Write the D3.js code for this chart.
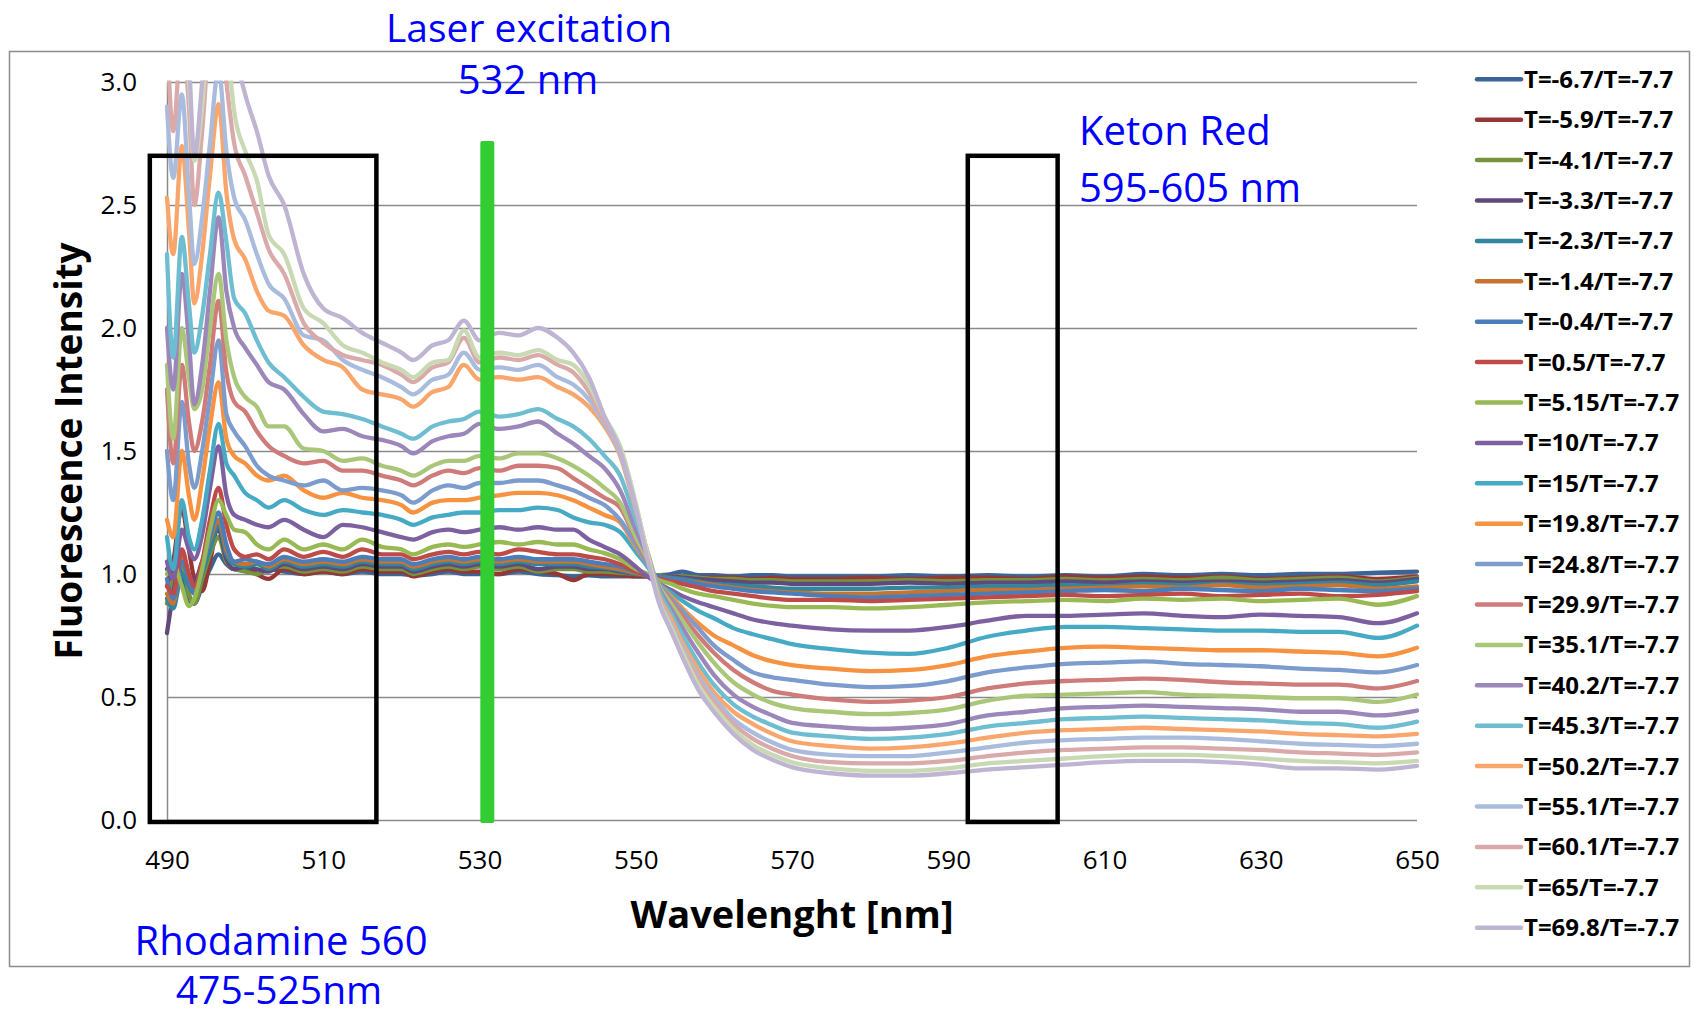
<!DOCTYPE html>
<html>
<head>
<meta charset="utf-8">
<script src="https://cdn.jsdelivr.net/npm/d3@7"></script>
<style>
  body { margin: 0; background: #fff; }
  text { font-family: "Open Sans", sans-serif; }
</style>
</head>
<body>
<div id="chart"></div>
<script>
// wavelength grid (nm), denser where the spectra change fast
const wavelengths = [490, 490.8, 491.9, 492.8, 493.5, 494.5, 495.5, 496.6, 497.6, 498.6, 500, 501.5, 503,
  505, 507.5, 510, 512.5, 515, 517.5, 520, 521.5, 524, 526, 528, 530, 532.5, 535, 537.5, 540,
  542, 544, 546, 548, 550, 551.5, 553, 554.5, 556, 558, 560, 562.5, 565, 567.5, 570,
  575, 580, 585, 590, 595, 600, 605, 610, 615, 620, 625, 630, 635, 640, 645, 650];

// ratio spectra, one array per temperature
const tM67 = [1.02, 1.05, 1.00, 0.88, 0.88, 0.95, 1.02, 1.08, 1.04, 1.02, 1.02, 1.00, 1.02,
  1.01, 1.00, 1.01, 1.00, 1.01, 1.00, 1.00, 0.995, 1.00, 1.01, 1.00, 1.00, 1.00, 1.01, 1.00, 0.995,
  0.99, 0.995, 0.99, 0.99, 0.99, 0.99, 0.995, 1.00, 1.01, 0.995, 0.995, 0.99, 0.995, 0.995, 0.99,
  0.99, 0.99, 0.995, 0.99, 0.995, 0.99, 0.995, 0.99, 1.00, 0.995, 1.00, 0.995, 1.00, 1.00, 1.005, 1.01];
const tM59 = [0.95, 1.05, 1.27, 1.10, 0.98, 0.93, 1.05, 1.20, 1.05, 1.02, 1.04, 1.00, 0.98,
  1.02, 1.00, 1.01, 1.00, 1.02, 1.01, 1.01, 0.99, 1.01, 1.02, 1.01, 1.01, 1.00, 1.02, 1.01, 1.00,
  0.975, 1.00, 1.00, 0.995, 0.99, 0.99, 0.99, 0.99, 0.99, 0.985, 0.985, 0.985, 0.98, 0.985, 0.98,
  0.98, 0.985, 0.98, 0.985, 0.985, 0.98, 0.99, 0.985, 0.99, 0.985, 0.99, 0.98, 0.985, 0.99, 0.98, 0.99];
const tM41 = [0.88, 0.98, 1.05, 0.92, 0.88, 0.98, 1.08, 1.15, 1.05, 1.02, 1.01, 1.00, 1.02,
  1.03, 1.01, 1.02, 1.01, 1.03, 1.02, 1.02, 1.00, 1.02, 1.03, 1.02, 1.03, 1.02, 1.03, 1.01, 1.02,
  1.02, 1.01, 1.01, 1.005, 1.00, 0.995, 0.995, 0.99, 0.99, 0.985, 0.98, 0.98, 0.975, 0.975, 0.97,
  0.97, 0.97, 0.975, 0.97, 0.975, 0.975, 0.98, 0.975, 0.98, 0.975, 0.985, 0.975, 0.98, 0.985, 0.97, 0.985];
const tM33 = [0.76, 0.92, 1.05, 1.00, 0.97, 1.05, 1.12, 1.18, 1.06, 1.02, 1.03, 1.02, 1.01,
  1.04, 1.02, 1.03, 1.02, 1.04, 1.03, 1.03, 1.01, 1.03, 1.04, 1.03, 1.04, 1.03, 1.04, 1.02, 1.03,
  1.03, 1.02, 1.02, 1.01, 1.00, 0.995, 0.99, 0.99, 0.985, 0.98, 0.975, 0.97, 0.965, 0.965, 0.96,
  0.96, 0.96, 0.965, 0.96, 0.965, 0.965, 0.97, 0.965, 0.97, 0.965, 0.97, 0.965, 0.97, 0.975, 0.965, 0.98];
const tM23 = [0.90, 0.86, 1.00, 0.95, 0.92, 1.00, 1.10, 1.20, 1.08, 1.04, 1.03, 1.04, 1.02,
  1.05, 1.03, 1.04, 1.03, 1.05, 1.04, 1.04, 1.02, 1.04, 1.05, 1.04, 1.05, 1.04, 1.05, 1.04, 1.04,
  1.04, 1.03, 1.025, 1.015, 1.00, 0.995, 0.99, 0.985, 0.98, 0.97, 0.96, 0.955, 0.95, 0.945, 0.94,
  0.94, 0.94, 0.945, 0.945, 0.95, 0.95, 0.955, 0.95, 0.96, 0.955, 0.96, 0.955, 0.96, 0.965, 0.955, 0.97];
const tM14 = [0.92, 0.88, 1.08, 1.00, 0.94, 1.03, 1.14, 1.22, 1.10, 1.05, 1.04, 1.05, 1.03,
  1.06, 1.04, 1.05, 1.04, 1.06, 1.05, 1.05, 1.03, 1.05, 1.06, 1.05, 1.06, 1.05, 1.06, 1.05, 1.05,
  1.05, 1.04, 1.03, 1.02, 1.005, 0.995, 0.99, 0.98, 0.975, 0.965, 0.955, 0.945, 0.935, 0.93, 0.925,
  0.92, 0.92, 0.925, 0.93, 0.935, 0.935, 0.94, 0.945, 0.95, 0.945, 0.955, 0.945, 0.95, 0.955, 0.94, 0.95];
const tM04 = [0.98, 0.90, 1.05, 0.98, 0.92, 1.02, 1.15, 1.25, 1.12, 1.05, 1.06, 1.05, 1.04,
  1.07, 1.05, 1.06, 1.05, 1.07, 1.06, 1.06, 1.04, 1.06, 1.07, 1.06, 1.07, 1.06, 1.07, 1.06, 1.06,
  1.06, 1.05, 1.04, 1.03, 1.01, 1.00, 0.99, 0.98, 0.975, 0.96, 0.95, 0.94, 0.93, 0.925, 0.92,
  0.91, 0.905, 0.91, 0.915, 0.92, 0.925, 0.93, 0.935, 0.93, 0.94, 0.935, 0.93, 0.94, 0.935, 0.93, 0.94];
const tP05 = [0.95, 0.92, 1.10, 1.00, 0.95, 1.05, 1.22, 1.35, 1.20, 1.10, 1.07, 1.08, 1.06,
  1.10, 1.07, 1.09, 1.07, 1.10, 1.08, 1.08, 1.06, 1.08, 1.09, 1.08, 1.09, 1.08, 1.10, 1.09, 1.08,
  1.08, 1.07, 1.06, 1.04, 1.01, 0.995, 0.98, 0.97, 0.96, 0.945, 0.93, 0.92, 0.91, 0.90, 0.895,
  0.895, 0.89, 0.895, 0.90, 0.905, 0.91, 0.915, 0.91, 0.915, 0.92, 0.91, 0.915, 0.92, 0.91, 0.915, 0.93];
const tP515 = [1.00, 1.04, 0.95, 0.87, 0.90, 1.02, 1.18, 1.30, 1.24, 1.18, 1.17, 1.12, 1.10,
  1.14, 1.10, 1.12, 1.10, 1.14, 1.11, 1.10, 1.08, 1.11, 1.12, 1.11, 1.12, 1.13, 1.12, 1.13, 1.12,
  1.12, 1.10, 1.085, 1.06, 1.02, 1.00, 0.975, 0.96, 0.94, 0.92, 0.91, 0.895, 0.88, 0.87, 0.865,
  0.865, 0.86, 0.865, 0.875, 0.885, 0.89, 0.895, 0.89, 0.90, 0.895, 0.90, 0.89, 0.895, 0.90, 0.875, 0.91];
const tP10 = [1.05, 0.98, 1.18, 1.10, 1.06, 1.16, 1.35, 1.52, 1.32, 1.24, 1.22, 1.20, 1.19,
  1.22, 1.18, 1.15, 1.20, 1.19, 1.17, 1.15, 1.14, 1.17, 1.18, 1.17, 1.18, 1.19, 1.18, 1.19, 1.18,
  1.18, 1.14, 1.11, 1.08, 1.03, 0.99, 0.96, 0.935, 0.91, 0.885, 0.865, 0.84, 0.815, 0.80, 0.79,
  0.775, 0.77, 0.77, 0.785, 0.81, 0.83, 0.83, 0.835, 0.84, 0.83, 0.825, 0.835, 0.83, 0.825, 0.80, 0.84];
const tP15 = [1.15, 1.02, 1.30, 1.15, 1.10, 1.22, 1.42, 1.61, 1.45, 1.40, 1.33, 1.30, 1.27,
  1.30, 1.26, 1.24, 1.26, 1.25, 1.24, 1.22, 1.20, 1.23, 1.24, 1.25, 1.25, 1.26, 1.26, 1.27, 1.26,
  1.23, 1.21, 1.20, 1.17, 1.09, 1.03, 0.96, 0.925, 0.89, 0.85, 0.82, 0.78, 0.755, 0.735, 0.715,
  0.695, 0.68, 0.675, 0.70, 0.745, 0.77, 0.785, 0.785, 0.78, 0.775, 0.77, 0.77, 0.765, 0.765, 0.74, 0.79];
const tP198 = [1.22, 1.15, 1.50, 1.32, 1.22, 1.38, 1.60, 1.78, 1.55, 1.48, 1.45, 1.40, 1.38,
  1.40, 1.34, 1.31, 1.33, 1.31, 1.30, 1.28, 1.25, 1.29, 1.30, 1.30, 1.31, 1.32, 1.33, 1.33, 1.32,
  1.30, 1.27, 1.24, 1.21, 1.11, 1.04, 0.96, 0.91, 0.86, 0.80, 0.75, 0.71, 0.67, 0.645, 0.63,
  0.615, 0.605, 0.61, 0.63, 0.665, 0.685, 0.70, 0.705, 0.70, 0.695, 0.69, 0.69, 0.685, 0.68, 0.665, 0.70];
const tP248 = [1.50, 1.30, 1.70, 1.45, 1.35, 1.50, 1.72, 1.95, 1.65, 1.58, 1.52, 1.44, 1.40,
  1.38, 1.36, 1.38, 1.34, 1.35, 1.34, 1.32, 1.29, 1.34, 1.36, 1.35, 1.37, 1.37, 1.38, 1.38, 1.36,
  1.34, 1.31, 1.28, 1.22, 1.12, 1.04, 0.96, 0.90, 0.85, 0.78, 0.71, 0.65, 0.60, 0.58, 0.57,
  0.55, 0.54, 0.545, 0.565, 0.60, 0.62, 0.635, 0.64, 0.645, 0.635, 0.63, 0.625, 0.615, 0.61, 0.60, 0.63];
const tP299 = [1.75, 1.45, 1.85, 1.62, 1.50, 1.62, 1.85, 2.11, 1.82, 1.70, 1.66, 1.58, 1.52,
  1.48, 1.45, 1.46, 1.42, 1.42, 1.40, 1.38, 1.36, 1.40, 1.42, 1.41, 1.43, 1.42, 1.44, 1.44, 1.43,
  1.39, 1.35, 1.31, 1.27, 1.14, 1.05, 0.95, 0.89, 0.83, 0.75, 0.68, 0.61, 0.56, 0.525, 0.51,
  0.49, 0.48, 0.485, 0.50, 0.535, 0.555, 0.565, 0.57, 0.575, 0.57, 0.56, 0.555, 0.55, 0.55, 0.535, 0.565];
const tP351 = [1.85, 1.55, 2.00, 1.80, 1.67, 1.75, 2.00, 2.22, 1.95, 1.80, 1.72, 1.68, 1.60,
  1.60, 1.51, 1.50, 1.46, 1.47, 1.44, 1.42, 1.40, 1.44, 1.46, 1.46, 1.48, 1.47, 1.49, 1.49, 1.47,
  1.44, 1.40, 1.35, 1.29, 1.15, 1.06, 0.95, 0.88, 0.81, 0.72, 0.64, 0.56, 0.51, 0.475, 0.455,
  0.44, 0.43, 0.435, 0.45, 0.485, 0.505, 0.51, 0.515, 0.52, 0.51, 0.505, 0.50, 0.495, 0.495, 0.48, 0.51];
const tP402 = [2.00, 1.75, 2.22, 1.95, 1.69, 1.85, 2.15, 2.45, 2.15, 2.00, 1.92, 1.85, 1.78,
  1.75, 1.65, 1.58, 1.59, 1.56, 1.545, 1.52, 1.49, 1.54, 1.56, 1.57, 1.61, 1.59, 1.60, 1.62, 1.57,
  1.53, 1.48, 1.43, 1.34, 1.18, 1.07, 0.94, 0.86, 0.78, 0.68, 0.59, 0.51, 0.46, 0.425, 0.395,
  0.38, 0.37, 0.375, 0.39, 0.425, 0.44, 0.455, 0.46, 0.465, 0.46, 0.455, 0.45, 0.44, 0.44, 0.425, 0.445];
const tP453 = [2.30, 1.88, 2.37, 2.10, 1.90, 2.05, 2.30, 2.55, 2.35, 2.12, 2.06, 1.95, 1.86,
  1.80, 1.72, 1.66, 1.65, 1.63, 1.60, 1.57, 1.55, 1.60, 1.62, 1.63, 1.66, 1.64, 1.65, 1.67, 1.63,
  1.60, 1.55, 1.48, 1.40, 1.22, 1.09, 0.93, 0.84, 0.75, 0.64, 0.55, 0.47, 0.42, 0.385, 0.355,
  0.34, 0.33, 0.335, 0.35, 0.38, 0.395, 0.41, 0.415, 0.42, 0.415, 0.41, 0.405, 0.395, 0.39, 0.375, 0.40];
const tP502 = [2.53, 2.30, 2.74, 2.40, 2.10, 2.30, 2.62, 2.91, 2.55, 2.36, 2.28, 2.15, 2.07,
  2.05, 1.93, 1.87, 1.84, 1.75, 1.73, 1.71, 1.68, 1.74, 1.76, 1.85, 1.79, 1.80, 1.79, 1.80, 1.76,
  1.73, 1.68, 1.60, 1.48, 1.26, 1.09, 0.91, 0.82, 0.72, 0.61, 0.52, 0.44, 0.39, 0.35, 0.32,
  0.30, 0.29, 0.295, 0.31, 0.335, 0.355, 0.365, 0.37, 0.375, 0.37, 0.365, 0.36, 0.35, 0.345, 0.34, 0.35];
const tP551 = [2.90, 2.61, 2.95, 2.55, 2.26, 2.45, 2.75, 3.05, 2.72, 2.53, 2.44, 2.30, 2.18,
  2.12, 1.97, 1.95, 1.87, 1.83, 1.80, 1.76, 1.73, 1.79, 1.81, 1.90, 1.83, 1.84, 1.83, 1.85, 1.80,
  1.77, 1.71, 1.61, 1.49, 1.27, 1.08, 0.90, 0.80, 0.70, 0.585, 0.50, 0.41, 0.355, 0.315, 0.285,
  0.265, 0.26, 0.26, 0.275, 0.295, 0.315, 0.325, 0.33, 0.335, 0.335, 0.33, 0.32, 0.31, 0.305, 0.30, 0.31];
const tP601 = [3.20, 2.80, 3.20, 2.90, 2.50, 2.80, 3.20, 3.30, 3.00, 2.75, 2.62, 2.47, 2.32,
  2.22, 2.02, 1.94, 1.89, 1.87, 1.85, 1.81, 1.78, 1.84, 1.86, 1.96, 1.86, 1.88, 1.87, 1.89, 1.85,
  1.82, 1.74, 1.62, 1.50, 1.28, 1.08, 0.895, 0.79, 0.69, 0.57, 0.48, 0.39, 0.33, 0.29, 0.26,
  0.235, 0.23, 0.23, 0.24, 0.26, 0.275, 0.285, 0.29, 0.295, 0.295, 0.29, 0.285, 0.275, 0.27, 0.265, 0.275];
const tP65 = [3.30, 3.10, 3.40, 3.00, 2.68, 2.90, 3.30, 3.50, 3.20, 2.88, 2.72, 2.60, 2.38,
  2.30, 2.08, 2.02, 1.93, 1.90, 1.86, 1.83, 1.80, 1.86, 1.87, 1.99, 1.88, 1.90, 1.89, 1.91, 1.87,
  1.85, 1.77, 1.64, 1.52, 1.29, 1.08, 0.89, 0.785, 0.68, 0.55, 0.46, 0.37, 0.305, 0.265, 0.235,
  0.21, 0.20, 0.20, 0.21, 0.23, 0.24, 0.25, 0.26, 0.265, 0.265, 0.26, 0.25, 0.24, 0.235, 0.23, 0.24];
const tP698 = [3.40, 3.20, 3.50, 3.10, 2.70, 3.00, 3.40, 3.60, 3.40, 3.15, 2.95, 2.80, 2.62,
  2.50, 2.22, 2.08, 2.04, 1.98, 1.94, 1.90, 1.87, 1.93, 1.95, 2.03, 1.95, 1.98, 1.97, 2.00, 1.96,
  1.90, 1.80, 1.64, 1.50, 1.27, 1.06, 0.88, 0.77, 0.66, 0.53, 0.44, 0.35, 0.285, 0.245, 0.215,
  0.19, 0.18, 0.18, 0.19, 0.205, 0.215, 0.225, 0.235, 0.24, 0.24, 0.235, 0.225, 0.21, 0.21, 0.205, 0.22];

const seriesNames = ["T=-6.7/T=-7.7", "T=-5.9/T=-7.7", "T=-4.1/T=-7.7", "T=-3.3/T=-7.7", "T=-2.3/T=-7.7",
  "T=-1.4/T=-7.7", "T=-0.4/T=-7.7", "T=0.5/T=-7.7", "T=5.15/T=-7.7", "T=10/T=-7.7", "T=15/T=-7.7",
  "T=19.8/T=-7.7", "T=24.8/T=-7.7", "T=29.9/T=-7.7", "T=35.1/T=-7.7", "T=40.2/T=-7.7", "T=45.3/T=-7.7",
  "T=50.2/T=-7.7", "T=55.1/T=-7.7", "T=60.1/T=-7.7", "T=65/T=-7.7", "T=69.8/T=-7.7"];
const seriesColors = ["#3c6497", "#953735", "#77933c", "#604a7b", "#31859c", "#c77430",
  "#4a7ebb", "#be4b48", "#98b954", "#7d60a0", "#46aac5", "#f69240",
  "#7c9ccd", "#cf7b79", "#aac779", "#9b87b9", "#6fbdd1", "#f9a66d",
  "#a9bcdd", "#d9aaa9", "#c8d9b3", "#bfb4d1"];

const xTicks = [490, 510, 530, 550, 570, 590, 610, 630, 650];
const yTicks = [0, 0.5, 1, 1.5, 2, 2.5, 3];

// annotation boxes and laser line (nm / intensity units)
const rhodamineBox = [487.8, 516.8];
const ketonBox = [592.5, 604];
const boxTop = 2.7;
const laserNm = 531;
const laserTop = 2.76;

document.addEventListener('DOMContentLoaded', () => {
    const seriesValues = [tM67, tM59, tM41, tM33, tM23, tM14, tM04, tP05, tP515, tP10, tP15,
        tP198, tP248, tP299, tP351, tP402, tP453, tP502, tP551, tP601, tP65, tP698];

    const svg = d3.select('#chart').append('svg')
        .attr('width', 1695)
        .attr('height', 1016);

    const xScale = d3.scaleLinear().domain([490, 650]).range([167, 1417]);
    const yScale = d3.scaleLinear().domain([0, 3]).range([820, 82]);

    // outer frame
    svg.append('rect')
        .attr('x', 9.5).attr('y', 51.5)
        .attr('width', 1680).attr('height', 915)
        .attr('fill', 'none')
        .attr('stroke', '#8c8c8c')
        .attr('stroke-width', 1.5);

    // y axis with gridlines
    const yAxis = d3.axisLeft(yScale)
        .tickValues(yTicks)
        .tickSize(-(xScale(650) - xScale(490)))
        .tickSizeOuter(0)
        .tickPadding(30)
        .tickFormat(d3.format('.1f'));

    const gy = svg.append('g')
        .attr('transform', 'translate(' + xScale(490) + ',0)')
        .call(yAxis);
    gy.select('.domain').attr('stroke', '#8a8a8a').attr('stroke-width', 1.5);
    gy.selectAll('.tick line').attr('stroke', '#8a8a8a').attr('stroke-width', 1.5);
    gy.selectAll('.tick text')
        .attr('fill', '#000')
        .style('font-family', '"Open Sans", sans-serif')
        .style('font-size', '26px');

    // x axis labels only
    const xAxis = d3.axisBottom(xScale)
        .tickValues(xTicks)
        .tickSize(0)
        .tickPadding(31);
    const gx = svg.append('g')
        .attr('transform', 'translate(0,' + yScale(0) + ')')
        .call(xAxis);
    gx.select('.domain').remove();
    gx.selectAll('.tick text')
        .attr('fill', '#000')
        .style('font-family', '"Open Sans", sans-serif')
        .style('font-size', '26px');

    // clip lines to the plot area like the spreadsheet does
    svg.append('clipPath').attr('id', 'plotClip')
        .append('rect')
        .attr('x', xScale(490) - 3).attr('y', yScale(3) - 1.5)
        .attr('width', xScale(650) - xScale(490) + 6)
        .attr('height', yScale(0) - yScale(3) + 4);

    const line = d3.line()
        .x(function (d, i) { return xScale(wavelengths[i]); })
        .y(function (d) { return yScale(d); })
        .curve(d3.curveMonotoneX);

    svg.append('g')
        .attr('clip-path', 'url(#plotClip)')
        .selectAll('path')
        .data(seriesValues)
        .enter().append('path')
        .attr('d', function (d) { return line(d); })
        .attr('fill', 'none')
        .attr('stroke', function (d, i) { return seriesColors[i]; })
        .attr('stroke-width', 4.3)
        .attr('stroke-linejoin', 'round')
        .attr('stroke-linecap', 'round');

    // laser excitation line
    svg.append('rect')
        .attr('x', xScale(laserNm) - 7)
        .attr('y', yScale(laserTop))
        .attr('width', 14)
        .attr('height', yScale(-0.012) - yScale(laserTop))
        .attr('rx', 2)
        .attr('fill', '#33cc33');

    // detection bands
    [rhodamineBox, ketonBox].forEach(function (b) {
        svg.append('rect')
            .attr('x', xScale(b[0]))
            .attr('y', yScale(boxTop))
            .attr('width', xScale(b[1]) - xScale(b[0]))
            .attr('height', yScale(-0.008) - yScale(boxTop))
            .attr('fill', 'none')
            .attr('stroke', '#000')
            .attr('stroke-width', 4.5);
    });

    // axis titles
    svg.append('text')
        .attr('transform', 'translate(82,451) rotate(-90)')
        .attr('text-anchor', 'middle')
        .style('font-weight', 'bold')
        .style('font-size', '37px')
        .text('Fluorescence Intensity');

    svg.append('text')
        .attr('x', 792).attr('y', 928)
        .attr('text-anchor', 'middle')
        .style('font-weight', 'bold')
        .style('font-size', '38px')
        .text('Wavelenght [nm]');

    // blue annotations
    const notes = [
        { t: 'Laser excitation', x: 529, y: 42, s: 39, a: 'middle' },
        { t: '532 nm', x: 528, y: 94, s: 40, a: 'middle' },
        { t: 'Keton Red', x: 1079, y: 145, s: 40, a: 'start' },
        { t: '595-605 nm', x: 1079, y: 202, s: 40, a: 'start' },
        { t: 'Rhodamine 560', x: 281, y: 955, s: 40, a: 'middle' },
        { t: '475-525nm', x: 279, y: 1004, s: 39, a: 'middle' }
    ];
    svg.selectAll('.note')
        .data(notes)
        .enter().append('text')
        .attr('class', 'note')
        .attr('x', function (d) { return d.x; })
        .attr('y', function (d) { return d.y; })
        .attr('text-anchor', function (d) { return d.a; })
        .attr('fill', '#0000ff')
        .style('font-size', function (d) { return d.s + 'px'; })
        .text(function (d) { return d.t; });

    // legend
    const legend = svg.append('g');
    const item = legend.selectAll('g')
        .data(seriesNames)
        .enter().append('g')
        .attr('transform', function (d, i) { return 'translate(0,' + (79.3 + i * 40.4) + ')'; });
    item.append('line')
        .attr('x1', 1477).attr('x2', 1521)
        .attr('stroke', function (d, i) { return seriesColors[i]; })
        .attr('stroke-width', 4.5)
        .attr('stroke-linecap', 'round');
    item.append('text')
        .attr('x', 1524).attr('y', 8.5)
        .style('font-weight', 'bold')
        .style('font-size', '24px')
        .text(function (d) { return d; });
});
</script>
</body>
</html>
